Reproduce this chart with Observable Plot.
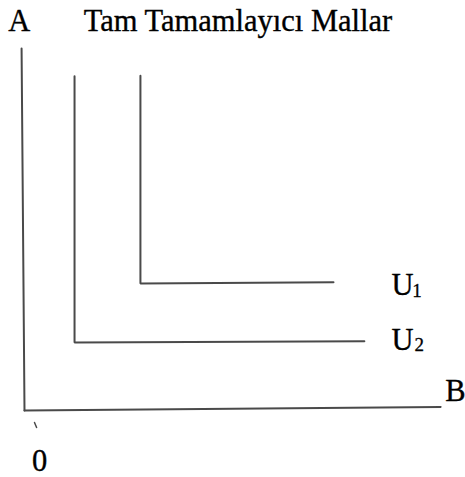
<!DOCTYPE html>
<html>
<head>
<meta charset="utf-8">
<script src="https://cdn.jsdelivr.net/npm/d3@7"></script>
<script src="https://cdn.jsdelivr.net/npm/@observablehq/plot@0.6"></script>
<style>
  html, body { margin: 0; padding: 0; background: #fff; }
</style>
</head>
<body>
<div id="chart"></div>
<script>
// Axes (B horizontal, A vertical), in goods units
const axisA = [{b: 0, a: 0}, {b: -0.7, a: 100}];
const axisB = [{b: 0, a: 0}, {b: 99.8, a: 1.0}];

// L-shaped indifference curves for perfect complements
const curveU1 = [{b: 27.8, a: 92.5}, {b: 27.8, a: 35.1}, {b: 74.1, a: 35.4}];
const curveU2 = [{b: 12.0, a: 92.3}, {b: 12.0, a: 18.8}, {b: 81.5, a: 19.1}];

// small stray mark under the origin
const originMark = [{b: 2.4, a: -3.3}, {b: 2.9, a: -4.7}];

// Text labels
const titleText = "Tam Tamamlayıcı Mallar";
const mainLabels = [
  {text: "A", b: -3.9, a: 107.6},
  {text: titleText, b: 14.2, a: 107.6},
  {text: "B", b: 100.9, a: 5.4},
  {text: "0", b: 1.8, a: -13.9},
  {text: "U", b: 88.0, a: 34.5},
  {text: "U", b: 88.0, a: 19.5}
];
const subLabels = [
  {text: "1", b: 93.0, a: 33.1},
  {text: "2", b: 93.5, a: 18.2}
];

const serif = "'Liberation Serif', 'Times New Roman', 'DejaVu Serif', serif";
const lineColor = "#4a4a4a";

const plot = Plot.plot({
  width: 465,
  height: 477,
  margin: 0,
  x: {domain: [0, 100], range: [24, 441], axis: null},
  y: {domain: [0, 100], range: [410, 48], axis: null},
  style: {background: "#fff"},
  marks: [
    Plot.line(axisA, {x: "b", y: "a", stroke: lineColor, strokeWidth: 2}),
    Plot.line(axisB, {x: "b", y: "a", stroke: lineColor, strokeWidth: 2}),
    Plot.line(curveU1, {x: "b", y: "a", stroke: lineColor, strokeWidth: 2, strokeLinejoin: "miter"}),
    Plot.line(curveU2, {x: "b", y: "a", stroke: lineColor, strokeWidth: 2, strokeLinejoin: "miter"}),
    Plot.line(originMark, {x: "b", y: "a", stroke: lineColor, strokeWidth: 1.5}),
    Plot.text(mainLabels, {x: "b", y: "a", text: "text", textAnchor: "start", lineAnchor: "middle",
      fontSize: 30.5, fontFamily: serif, fill: "#000", stroke: "#000", strokeWidth: 0.35}),
    Plot.text(subLabels, {x: "b", y: "a", text: "text", textAnchor: "start", lineAnchor: "middle",
      fontSize: 19, fontFamily: serif, fill: "#000", stroke: "#000", strokeWidth: 0.3})
  ]
});
document.getElementById("chart").appendChild(plot);
</script>
</body>
</html>
